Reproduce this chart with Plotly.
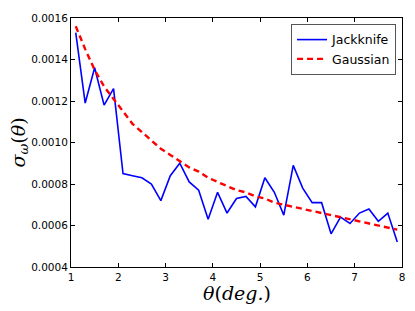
import plotly.graph_objects as go

theta = [1.1, 1.3, 1.5, 1.7, 1.9, 2.1, 2.3, 2.5, 2.7, 2.9, 3.1, 3.3, 3.5, 3.7, 3.9,
         4.1, 4.3, 4.5, 4.7, 4.9, 5.1, 5.3, 5.5, 5.7, 5.9, 6.1, 6.3, 6.5, 6.7, 6.9,
         7.1, 7.3, 7.5, 7.7, 7.9]

jackknife = [0.00153, 0.00119, 0.00136, 0.00118, 0.00126, 0.00085, 0.00084, 0.00083,
             0.00080, 0.00072, 0.00084, 0.00090, 0.00081, 0.00077, 0.00063, 0.00076,
             0.00066, 0.00073, 0.00074, 0.00069, 0.00083, 0.00076, 0.00065, 0.00089,
             0.00078, 0.00071, 0.00071, 0.00056, 0.00064, 0.00061, 0.00066, 0.00068,
             0.00062, 0.00066, 0.00052]

gaussian = [0.00156, 0.00145, 0.00135, 0.00127, 0.00121, 0.00115, 0.00109, 0.00105,
            0.00101, 0.00097, 0.00094, 0.00091, 0.00088, 0.00086, 0.00083, 0.00081,
            0.00079, 0.00077, 0.00076, 0.00074, 0.00073, 0.00071, 0.00070, 0.00069,
            0.00068, 0.00067, 0.00066, 0.00065, 0.00064, 0.00063, 0.00062, 0.00061,
            0.00060, 0.00059, 0.00058]

x_ticks = [1, 2, 3, 4, 5, 6, 7, 8]
y_ticks = [0.0004, 0.0006, 0.0008, 0.0010, 0.0012, 0.0014, 0.0016]
y_tick_labels = ["0.0004", "0.0006", "0.0008", "0.0010", "0.0012", "0.0014", "0.0016"]

fig = go.Figure()
fig.add_trace(go.Scatter(x=theta, y=jackknife, mode="lines", name="Jackknife",
                         line=dict(color="#0000ff", width=1.6)))
fig.add_trace(go.Scatter(x=theta, y=gaussian, mode="lines", name="Gaussian",
                         line=dict(color="#ff0000", width=2.4, dash="6px,4px")))

axis_common = dict(showline=True, linecolor="black", linewidth=1, mirror="allticks",
                   ticks="inside", ticklen=4, tickcolor="black", showgrid=False,
                   zeroline=False, automargin=False,
                   tickfont=dict(family="DejaVu Sans", size=10.5, color="black"))

L, R, T, B = 71, 13, 18, 44
W, H = 415, 311

fig.update_layout(
    width=W, height=H,
    margin=dict(l=L, r=R, t=T, b=B, autoexpand=False),
    paper_bgcolor="white", plot_bgcolor="white",
    xaxis=dict(range=[1, 8], tickvals=x_ticks, **axis_common),
    yaxis=dict(range=[0.0004, 0.0016], tickvals=y_ticks, ticktext=y_tick_labels,
               **axis_common),
    legend=dict(x=0.982, y=0.976, xanchor="right", yanchor="top",
                bordercolor="#555555", borderwidth=1, bgcolor="white",
                font=dict(family="DejaVu Sans", size=12.5, color="black"),
                tracegroupgap=0, itemwidth=30),
    showlegend=True,
)

# axis titles placed as annotations (paper coordinates)
fig.add_annotation(text="<i>θ</i>(<i>deg.</i>)", xref="paper", yref="paper",
                   x=0.5, y=-(293 - (H - B)) / (H - T - B), xanchor="center", yanchor="middle",
                   showarrow=False,
                   font=dict(family="DejaVu Serif", size=19, color="black"))
fig.add_annotation(text="<i>σ</i><sub><i>ω</i></sub>(<i>θ</i>)", xref="paper", yref="paper",
                   x=-(L - 19) / (W - L - R), y=0.5, xanchor="center", yanchor="middle",
                   textangle=-90, showarrow=False,
                   font=dict(family="DejaVu Serif", size=19, color="black"))

fig.write_html("out.html", config={"displayModeBar": False},
               post_script="document.body.style.margin='0';document.body.style.overflow='hidden';")
